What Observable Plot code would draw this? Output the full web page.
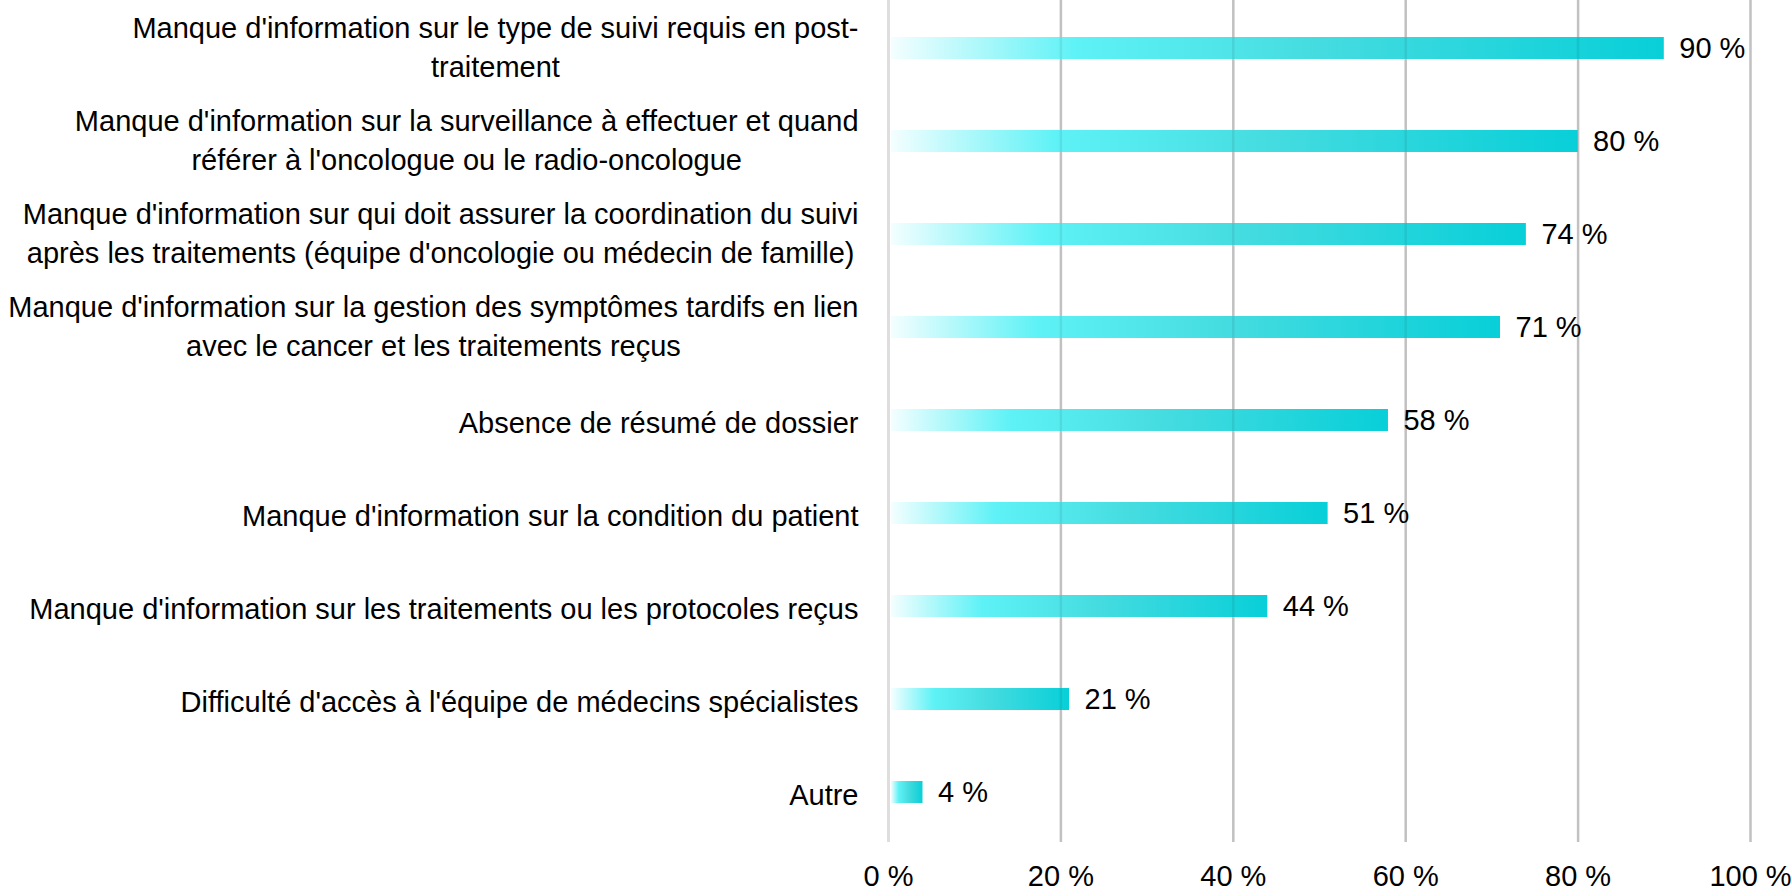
<!DOCTYPE html>
<html>
<head>
<meta charset="utf-8">
<script src="https://cdn.jsdelivr.net/npm/d3@7"></script>
<script src="https://cdn.jsdelivr.net/npm/@observablehq/plot@0.6"></script>
<style>
  html, body { margin: 0; padding: 0; background: #ffffff; }
  #chart { width: 1792px; height: 894px; overflow: hidden; }
</style>
</head>
<body>
<div id="chart"></div>
<script>
const categories = [
  "Manque d'information sur le type de suivi requis en post-\ntraitement",
  "Manque d'information sur la surveillance à effectuer et quand\nréférer à l'oncologue ou le radio-oncologue",
  "Manque d'information sur qui doit assurer la coordination du suivi\naprès les traitements (équipe d'oncologie ou médecin de famille)",
  "Manque d'information sur la gestion des symptômes tardifs en lien\navec le cancer et les traitements reçus",
  "Absence de résumé de dossier",
  "Manque d'information sur la condition du patient",
  "Manque d'information sur les traitements ou les protocoles reçus",
  "Difficulté d'accès à l'équipe de médecins spécialistes",
  "Autre"
];
const values = [90, 80, 74, 71, 58, 51, 44, 21, 4];
const tickValues = [0, 20, 40, 60, 80, 100];
const tickLabels = ["0 %", "20 %", "40 %", "60 %", "80 %", "100 %"];

const data = categories.map((c, i) => ({category: c, value: values[i]}));

const FONT = "'Liberation Sans Narrow', 'Liberation Sans', Arial, sans-serif";
const FS = 29;
const LINE_PX = 39.5;
const LINE_H = LINE_PX / FS;

const canvas = document.createElement("canvas");
const ctx = canvas.getContext("2d");
ctx.font = `${FS}px ${FONT}`;
const maxLineWidth = s => Math.max(...s.split("\n").map(l => ctx.measureText(l).width));

const labelMarks = categories.map(c => {
  const w = maxLineWidth(c);
  const multi = c.includes("\n");
  return Plot.text([c], {
    y: d => d,
    text: d => d,
    frameAnchor: "left",
    textAnchor: "middle",
    lineHeight: LINE_H,
    dx: -30 - w / 2,
    dy: multi ? -3.4 : 0,
    fill: "#000000",
    fontSize: FS
  });
});

const plot = Plot.plot({
  width: 1792,
  height: 894,
  marginLeft: 888,
  marginRight: 42,
  marginTop: 0,
  marginBottom: 52,
  style: {fontFamily: FONT, fontSize: FS + "px", color: "#000000", background: "#ffffff", overflow: "visible"},
  x: {domain: [0, 100], axis: null},
  y: {domain: categories, range: [-1.5, 841.5], paddingInner: 0.76, paddingOuter: 0.38, axis: null},
  marks: [
    Plot.ruleX(tickValues.slice(1), {stroke: "#d0d0d0", strokeWidth: 2.5}),
    Plot.ruleX([tickValues[0]], {stroke: "#dedede", strokeWidth: 3}),
    Plot.barX(data, {x: "value", y: "category", fill: "url(#barGrad)", insetLeft: 3}),
    Plot.ruleX(tickValues.slice(1), {stroke: "#000000", strokeOpacity: 0.07, strokeWidth: 2.5}),
    Plot.text(data, {x: "value", y: "category", text: d => `${d.value} %`, textAnchor: "start", dx: 15, fill: "#000000", fontSize: FS}),
    Plot.axisX({ticks: tickValues, tickFormat: d => tickLabels[tickValues.indexOf(d)], tickSize: 0, tickPadding: 23, fontSize: FS, label: null}),
    ...labelMarks
  ]
});

// gradient definition
const ns = "http://www.w3.org/2000/svg";
const defs = document.createElementNS(ns, "defs");
const grad = document.createElementNS(ns, "linearGradient");
grad.setAttribute("id", "barGrad");
grad.setAttribute("x1", "0"); grad.setAttribute("x2", "1");
grad.setAttribute("y1", "0"); grad.setAttribute("y2", "0");
[["0", "#f4feff"], ["0.24", "#5ef2f6"], ["0.55", "#45dce0"], ["1", "#08cfd8"]].forEach(([o, c]) => {
  const s = document.createElementNS(ns, "stop");
  s.setAttribute("offset", o);
  s.setAttribute("stop-color", c);
  grad.appendChild(s);
});
defs.appendChild(grad);
plot.insertBefore(defs, plot.firstChild);

document.getElementById("chart").appendChild(plot);
</script>
</body>
</html>
